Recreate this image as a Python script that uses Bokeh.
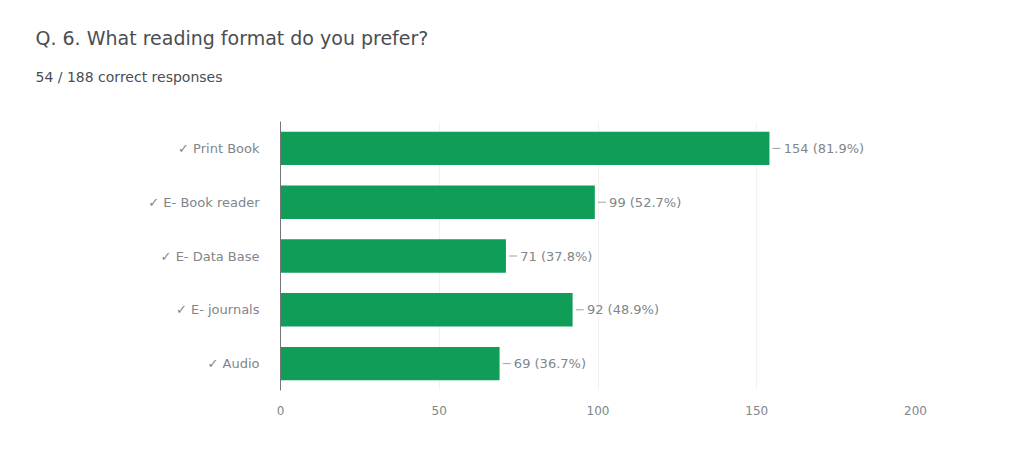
from bokeh.plotting import figure
from bokeh.models import Title, FactorRange, ColumnDataSource, Range1d, FixedTicker
from bokeh.core.properties import value
from bokeh.embed import file_html
from bokeh.resources import INLINE

title_text = "Q. 6. What reading format do you prefer?"
subtitle_text = "54 / 188 correct responses"
categories = ["\u2713 Print Book", "\u2713 E- Book reader", "\u2713 E- Data Base", "\u2713 E- journals", "\u2713 Audio"]
counts = [154, 99, 71, 92, 69]
percents = [81.9, 52.7, 37.8, 48.9, 36.7]
x_ticks = [0, 50, 100, 150, 200]

labels = [f"{c} ({p}%)" for c, p in zip(counts, percents)]
src = ColumnDataSource(dict(
    cat=categories, cnt=counts, lab=labels,
    l0=[c + 1 for c in counts], l1=[c + 3.5 for c in counts], tx=[c + 4.5 for c in counts],
))

FONT = "DejaVu Sans"
p = figure(width=1015, height=454, output_backend="svg", toolbar_location=None,
           y_range=FactorRange(*reversed(categories), range_padding=0.0),
           x_range=Range1d(0, 200))
p.min_border_left = 280
p.min_border_right = 100
p.min_border_top = 121
p.min_border_bottom = 64
p.outline_line_color = None
p.background_fill_color = "white"
p.border_fill_color = "white"

p.hbar(y="cat", right="cnt", left=0, height=0.62, source=src, color="#0f9d58", line_color=None)
p.segment(x0="l0", x1="l1", y0="cat", y1="cat", source=src, line_color="#9aa0a6", line_width=1)
p.text(x="tx", y="cat", text="lab", source=src, text_font=value(FONT), text_font_size="13px",
       text_color="#80868b", text_baseline="middle", text_align="left")

p.xaxis.ticker = FixedTicker(ticks=x_ticks)
p.xaxis.axis_line_color = None
p.xaxis.major_tick_line_color = None
p.xaxis.minor_tick_line_color = None
p.xaxis.major_label_text_font = FONT
p.xaxis.major_label_text_font_size = "12px"
p.xaxis.major_label_text_color = "#80868b"
p.xaxis.major_label_standoff = 9

p.yaxis.axis_line_color = "#757575"
p.yaxis.axis_line_width = 1
p.yaxis.major_tick_line_color = None
p.yaxis.minor_tick_line_color = None
p.yaxis.major_label_text_font = FONT
p.yaxis.major_label_text_font_size = "13px"
p.yaxis.major_label_text_color = "#80868b"
p.yaxis.major_label_standoff = 15

p.ygrid.grid_line_color = None
p.xgrid.grid_line_color = "#f2f2f2"

# main title (the plot's own title is outermost)
p.title.text = title_text
p.title.align = "left"
p.title.offset = -245
p.title.text_font = FONT
p.title.text_font_size = "19px"
p.title.text_font_style = "normal"
p.title.text_color = "#4a4e52"

# spacer nearest the frame, then the subtitle
p.add_layout(Title(text=" ", text_font_size="10px", standoff=11), "above")
p.add_layout(Title(text=subtitle_text, align="left", offset=-245, text_font=FONT,
                   text_font_size="14px", text_font_style="normal", text_color="#4a4e52",
                   standoff=26), "above")

open("out.html", "w").write(file_html(p, INLINE))
